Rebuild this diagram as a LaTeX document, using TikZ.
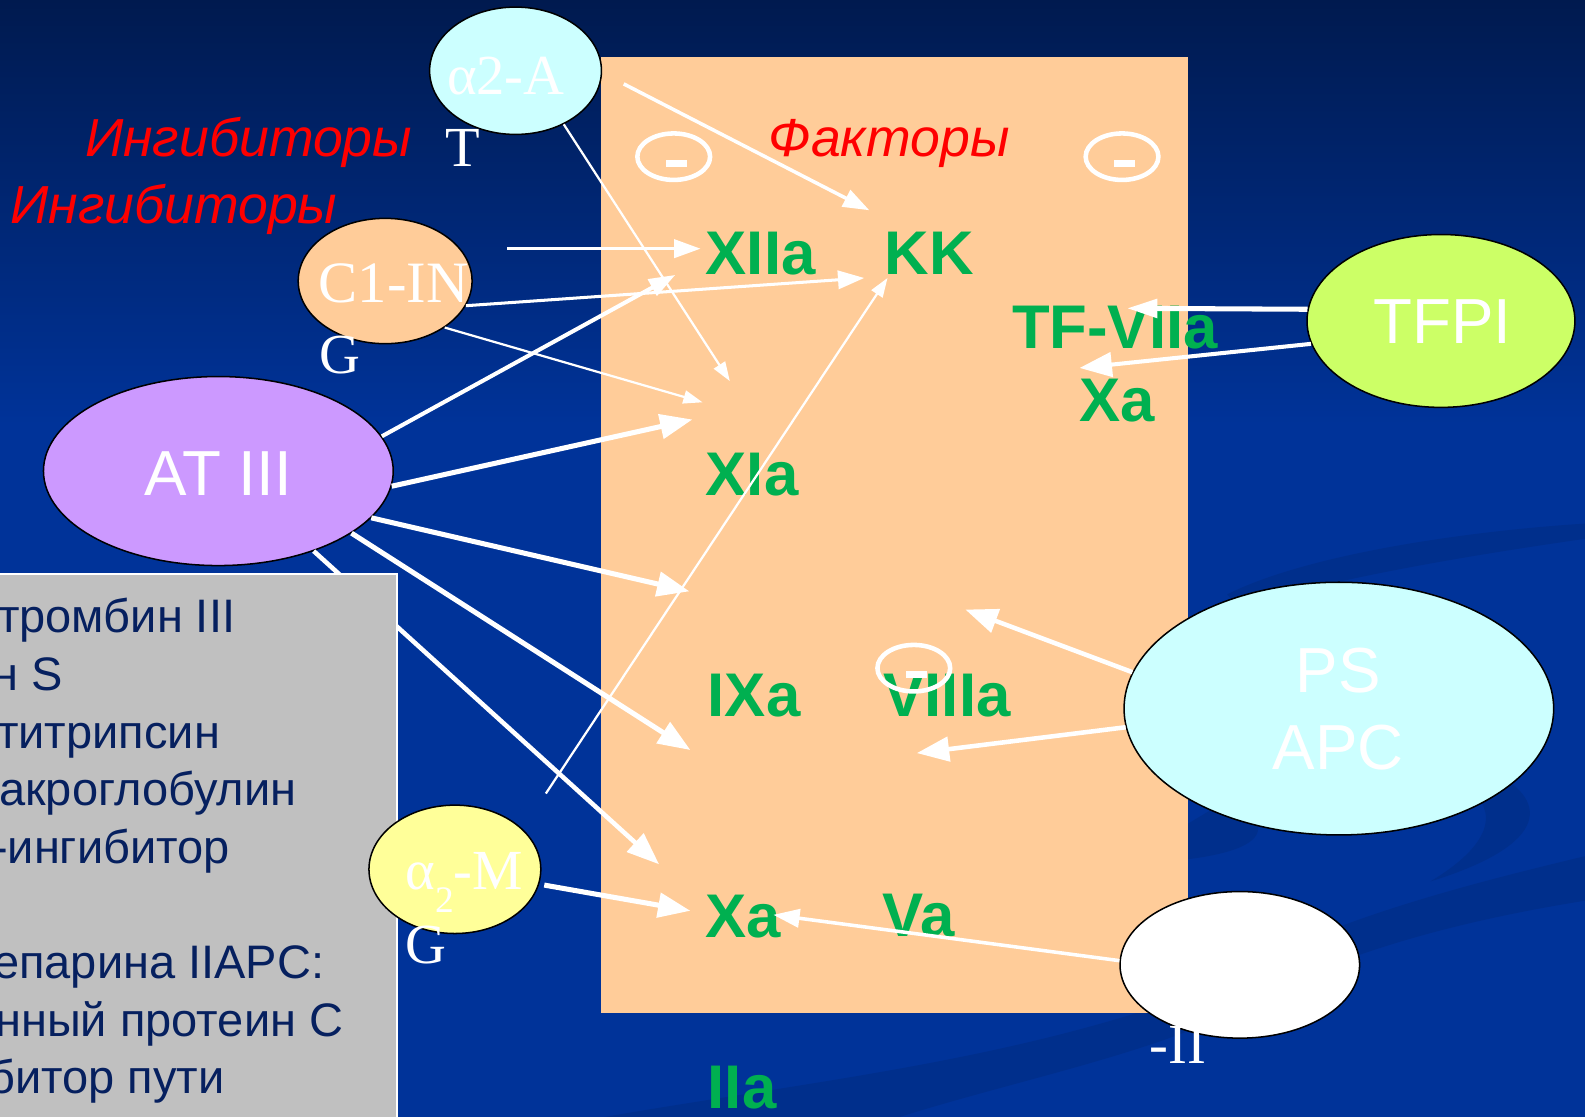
\documentclass[tikz,border=0pt]{standalone}
\usepackage{fontspec}
\setmainfont{Liberation Sans}
\newfontfamily\serifa{Liberation Serif}
\usetikzlibrary{shapes.geometric,arrows.meta}

\definecolor{fondo}{HTML}{003399}
\definecolor{fondoalto}{HTML}{001A4F}
\definecolor{sombra}{HTML}{002F8C}
\definecolor{durazno}{HTML}{FFCC99}
\definecolor{cian}{HTML}{CCFFFF}
\definecolor{lila}{HTML}{CC99FF}
\definecolor{amarillo}{HTML}{FFFF99}
\definecolor{lima}{HTML}{CCFF66}
\definecolor{verde}{HTML}{00B050}
\definecolor{gris}{HTML}{C0C0C0}
\definecolor{tinta}{HTML}{06205F}

\tikzset{
  elipse/.style={ellipse, draw=black, line width=1.5pt, inner sep=0pt},
  menos/.style={ellipse, draw=white, line width=4.5pt, inner sep=0pt,
    minimum width=72pt, minimum height=46pt},
  factor/.style={anchor=base west, inner sep=0pt, text=verde,
    font=\bfseries\fontsize{61}{61}\selectfont},
  rojo/.style={anchor=base west, inner sep=0pt, text=red,
    font=\itshape\fontsize{53}{53}\selectfont},
  romana/.style={anchor=base west, inner sep=0pt, text=white,
    font=\serifa\fontsize{56}{56}\selectfont},
  palo/.style={anchor=base, inner sep=0pt, text=white,
    font=\fontsize{63}{63}\selectfont},
  lista/.style={anchor=base west, inner sep=0pt, text=tinta,
    font=\fontsize{46.5}{46.5}\selectfont},
  fina/.style={white, line width=2.2pt, -{Triangle[length=19pt,width=13pt]}},
  media/.style={white, line width=3.5pt, -{Triangle[length=26pt,width=18pt]}},
  gruesa/.style={white, line width=5pt, -{Triangle[length=32pt,width=24pt]}}
}

\begin{document}
\begin{tikzpicture}[x=1pt, y=-1pt]
    \useasboundingbox (0,0) rectangle (1568,1105);

    % Fondo
    \fill[fondo] (0,0) rectangle (1568,1105);
    \shade[top color=fondoalto, bottom color=fondo] (0,0) rectangle (1568,420);
    \fill[sombra] (1568,518) .. controls (1470,524) and (1300,545) .. (1214,588)
        -- (1227,603) .. controls (1300,575) and (1450,550) .. (1568,533) -- cycle;
    \fill[sombra] (1470,760) .. controls (1535,790) and (1535,835) .. (1415,872)
        .. controls (1485,830) and (1480,795) .. (1445,775) -- cycle;
    \fill[sombra] (1175,850) .. controls (1215,845) and (1250,835) .. (1244,815)
        .. controls (1230,805) and (1210,800) .. (1200,800) -- (1175,815) -- cycle;
    \fill[sombra] (1568,847) .. controls (1430,880) and (1300,915) .. (1190,980)
        .. controls (1000,1050) and (800,1070) .. (598,1105) -- (890,1105)
        .. controls (1000,1070) and (1150,1040) .. (1230,995)
        .. controls (1330,940) and (1450,910) .. (1568,891) -- cycle;

    % Factores
    \fill[durazno] (595,56) rectangle (1175,1002);

    \node[elipse, fill=lila, minimum width=346pt, minimum height=187pt] (at3) at (216,466) {};
    \draw[gruesa, line width=4.5pt] (at3.-40) -- (652,855) coordinate (t10);

    % Lista
    \draw[fill=gris, draw=white, line width=2pt] (-5,568) rectangle (393,1112);
    \foreach \y/\x/\t in {
        626/-2/тромбин III,
        683/-8/н S,
        740/-3/титрипсин,
        797/-1/акроглобулин,
        854/-8/-ингибитор,
        968/-7/епарина IIAPC:,
        1025/-5/нный протеин С,
        1082/-12/битор пути
        } {
        \node[lista] at (\x,\y) {\t};
    }

    % Inhibidores
    \node[elipse, fill=cian, minimum width=170pt, minimum height=126pt] (a2a) at (510,70) {};
    \node[elipse, fill=durazno, minimum width=172pt, minimum height=124pt] (c1) at (381,278) {};
    \node[elipse, fill=amarillo, minimum width=170pt, minimum height=127pt] (a2m) at (450,860) {};
    \node[elipse, fill=lima, minimum width=265pt, minimum height=171pt] (tfpi) at (1425.5,317.5) {};
    \node[elipse, fill=cian, minimum width=425pt, minimum height=250pt] (ps) at (1324.5,701) {};
    \node[elipse, fill=white, minimum width=237pt, minimum height=145pt] (wh) at (1226.5,954.5) {};

    \node[romana] (a2atxt) at (442,93) {α2-A};
    \node[romana] (ttxt) at (441,165) {T};
    \node[romana, font=\serifa\fontsize{58}{58}\selectfont] (c1txt) at (315,299) {C1-IN};
    \node[romana] (gtxt) at (316,369) {G};
    \node[romana] (a2mtxt) at (401,880) {α\raisebox{-23pt}{\fontsize{37}{37}\selectfont 2}-M};
    \node[romana] (g2txt) at (401,953) {G};
    \node[romana] (iitxt) at (1137,1052) {-II};

    \node[palo] (at3txt) at (216,490) {AT III};
    \node[palo] (tfpitxt) at (1427,340) {TFPI};
    \node[palo] (pstxt) at (1324,685) {PS};
    \node[palo] (apctxt) at (1324,761) {APC};

    \node[rojo] (ing1) at (84,155) {Ингибиторы};
    \node[rojo] (ing2) at (10,221) {Ингибиторы};
    \node[rojo] (fac) at (760,155) {Факторы};

    \foreach \n/\x/\y/\t in {
        xiia/698/272/XIIa,
        kk/875/272/KK,
        tfvii/1001/345/TF-VIIa,
        xa1/1068/417/Xa,
        xia/698/490/XIa,
        ixa/700/709/IXa,
        viii/874/709/VIIIa,
        xa2/698/927/Xa,
        va/873/926/Va,
        iia/700/1097/IIa
        } {
        \node[factor] (\n) at (\x,\y) {\t};
    }

    % Signos menos
    \node[menos] (m1) at (666.5,155) {};
    \node[menos] (m2) at (1110,155) {};
    \node[menos] (m3) at (904,661) {};
    \foreach \m in {m1,m2,m3}
        \fill[white] ([shift={(-8,3)}]\m.center) rectangle ++(21,7);

    % Flechas
    \foreach \n/\x/\y in {
        s1/617/83, s3/502/246, s11/540/785,
        t1/860/208, t2/722/377, t3/693/246, t4/855/275, t5/695/398,
        t6/668/272, t7/685/415, t8/682/585, t9/683/742,
        t11/878/275, t12/683/901, t13/765/905,
        t14/1115/305, t15/1068/364, t16/955/603, t17/907/745
        } {
        \coordinate (\n) at (\x,\y);
    }
    \draw[media] (s1) -- (t1);
    \draw[fina] (a2a.-48) -- (t2);
    \draw[media, line width=3pt] (s3) -- (t3);
    \draw[media, line width=3pt] (c1.-17) -- (t4);
    \draw[fina] (c1.-38) -- (t5);
    \draw[media, line width=4pt] (at3.12) -- (t6);
    \draw[gruesa] (at3.-5) -- (t7);
    \draw[gruesa] (at3.-17) -- (t8);
    \draw[gruesa] (at3.-25) -- (t9);
    \draw[fina] (s11) -- (t11);
    \draw[gruesa, shorten <=5pt] (a2m.-10) -- (t12);
    \draw[media] (wh.178) -- (t13);
    \draw[gruesa, -{Triangle[length=30pt,width=18pt]}] (tfpi.175) -- (t14);
    \draw[gruesa, line width=4pt] (tfpi.190) -- (t15);
    \draw[gruesa, line width=4.5pt] (ps.170) -- (t16);
    \draw[gruesa, line width=4.5pt] (ps.185) -- (t17);
\end{tikzpicture}
\end{document}
